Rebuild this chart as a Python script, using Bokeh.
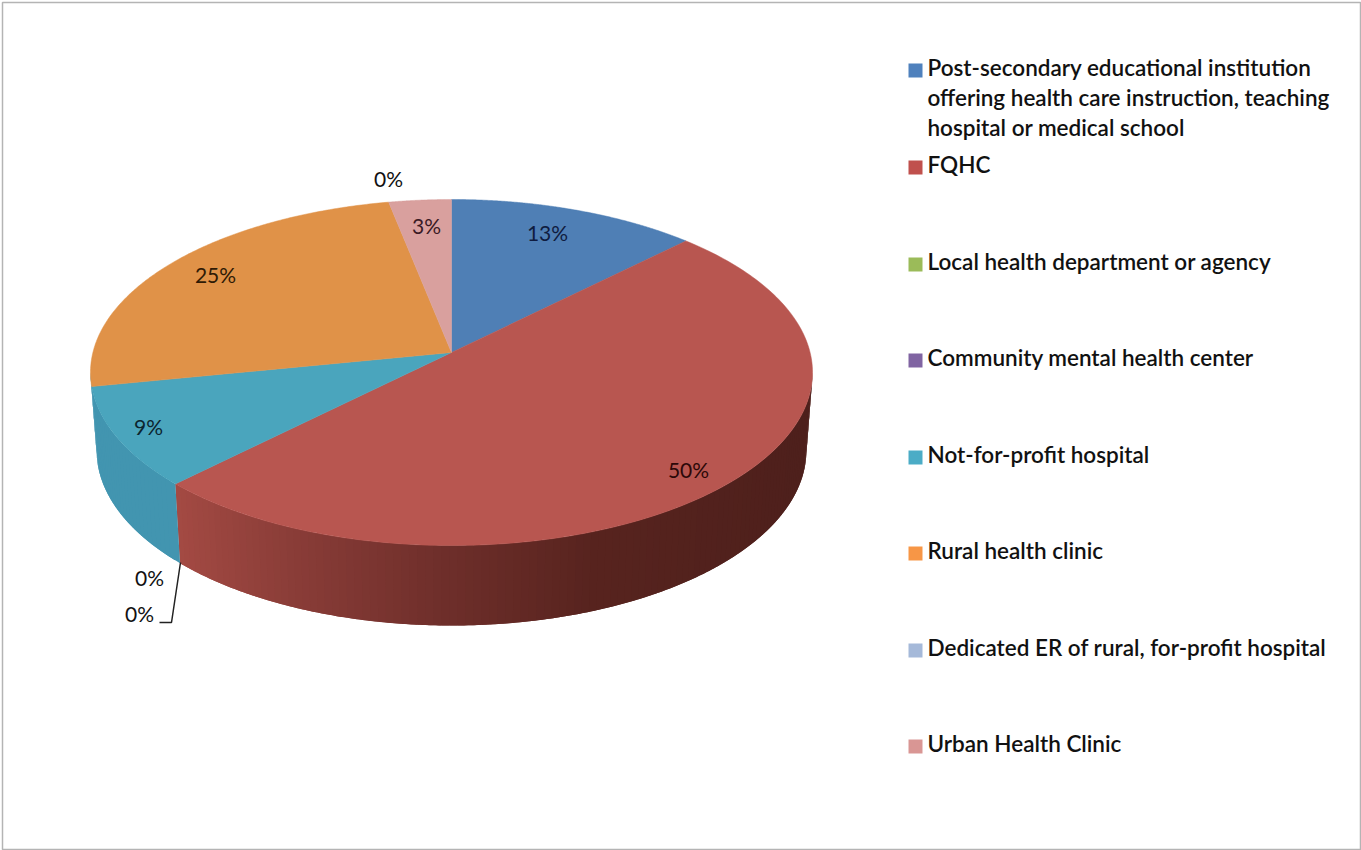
import numpy as np
from bokeh.plotting import figure
from bokeh.core.properties import value
from bokeh.embed import file_html
from bokeh.resources import INLINE

# ---- data ----
categories = [
    "Post-secondary educational institution\noffering health care instruction, teaching\nhospital or medical school",
    "FQHC",
    "Local health department or agency",
    "Community mental health center",
    "Not-for-profit hospital",
    "Rural health clinic",
    "Dedicated ER of rural, for-profit hospital",
    "Urban Health Clinic",
]
counts = [4, 16, 0, 0, 3, 8, 0, 1]

# ---- style ----
top_colors = ["#4f7fb5", "#b85650", "#9bbb59", "#8064a2", "#4aa5bd", "#e09248", "#a5b9d9", "#d9a09e"]
swatch_colors = ["#4f81bd", "#c0504d", "#9bbb59", "#8064a2", "#4bacc6", "#f79646", "#a5b9d9", "#d99694"]
wall_x = [175, 300, 450, 600, 810]
wall_r = [0xa5, 0x8a, 0x6f, 0x58, 0x4e]
wall_g = [0x4b, 0x3d, 0x2f, 0x24, 0x20]
wall_b = [0x44, 0x38, 0x2b, 0x1f, 0x1c]
wall_other = {4: "#4295b0", 5: "#4295b0"}
label_texts_pos = [(547, 232, "#0f1c40"), (688, 469, "#2c0808"), (149, 577, "#111111"), (388, 178, "#111111"),
                   (148, 426, "#0c2530"), (215, 274, "#2f1a05"), (139, 613, "#111111"), (426, 225, "#3a1a25")]
legend_y = [67, 164, 261, 357, 454, 550, 647, 743]
LINE_H = 30
FONT = "Lato"
LEGEND_FONT = "Lato Semibold"

# ---- projection ----
APEX = (451.0, 352.0)
K = 0.1156
A = 358.6
B = 170.7


def top_xy(theta, r=1.0):
    X, Y = r * np.sin(theta), r * np.cos(theta)
    d = 1 + K * Y
    return APEX[0] + A * X / d, APEX[1] - B * Y / d


def bottom_xy(theta):
    x, y = top_xy(theta)
    return APEX[0] + (x - APEX[0]) * 0.983, 450 + (y - 372) * 175 / 173


p = figure(width=1361, height=850, x_range=(0, 1361), y_range=(850, 0), output_backend="svg",
           toolbar_location=None, min_border=0, outline_line_color=None, background_fill_color="white")
p.axis.visible = False
p.grid.visible = False

# border
p.quad(left=[2], right=[1360], top=[2], bottom=[849], fill_color=None, line_color="#b4b4b4", line_width=1.5)

total = sum(counts)
frac = np.array(counts) / total
edges = np.concatenate([[0], np.cumsum(frac)]) * 2 * np.pi
vis_lo = np.arccos(-K)
vis_hi = 2 * np.pi - vis_lo

# walls: each strip reaches over the next one's start so no seams show
for i, c in enumerate(counts):
    if c == 0:
        continue
    lo, hi = max(edges[i], vis_lo), min(edges[i + 1], vis_hi)
    if hi <= lo:
        continue
    n = max(2, int((hi - lo) / 0.02))
    th = np.linspace(lo, hi, n + 1)
    step = th[1] - th[0]
    xs, ys, cols = [], [], []
    # painted from the far end so that lower-index strips lie on top of their overlap
    for a in th[:-1][::-1]:
        seg = np.linspace(a, min(a + 2 * step, hi), 6)
        tx, ty = top_xy(seg)
        bx, by = bottom_xy(seg)
        xs.append(list(tx) + list(bx[::-1]))
        ys.append(list(ty) + list(by[::-1]))
        if i in wall_other:
            cols.append(wall_other[i])
        else:
            m = top_xy(np.array([a + step / 2]))[0][0]
            cols.append("#%02x%02x%02x" % (int(np.interp(m, wall_x, wall_r)), int(np.interp(m, wall_x, wall_g)), int(np.interp(m, wall_x, wall_b))))
    p.patches(xs, ys, fill_color=cols, line_color=None)

# top faces
for i, c in enumerate(counts):
    if c == 0:
        continue
    th = np.linspace(edges[i], edges[i + 1], 200)
    x, y = top_xy(th)
    p.patch([APEX[0]] + list(x), [APEX[1]] + list(y), fill_color=top_colors[i], line_color=top_colors[i], line_width=0.5)

# leader line
p.line([180, 171, 159], [562, 622, 622], line_color="#222222", line_width=1.5)

# data labels
pct = ["%d%%" % round(100 * c / total + 1e-9) for c in counts]
p.text([q[0] for q in label_texts_pos], [q[1] for q in label_texts_pos], text=pct,
       text_color=[q[2] for q in label_texts_pos], text_font=value(FONT), text_font_size="21px",
       text_align="center", text_baseline="middle")

# legend
for cat, col, y in zip(categories, swatch_colors, legend_y):
    p.quad(left=[908], right=[922], top=[y - 4], bottom=[y + 10], fill_color=col, line_color=None)
    for j, line in enumerate(cat.split("\n")):
        p.text([927], [y + j * LINE_H], text=[line], text_color="#111111", text_font=value(LEGEND_FONT),
               text_font_size="22.5px", text_align="left", text_baseline="middle")

open("out.html", "w").write(file_html(p, INLINE))
